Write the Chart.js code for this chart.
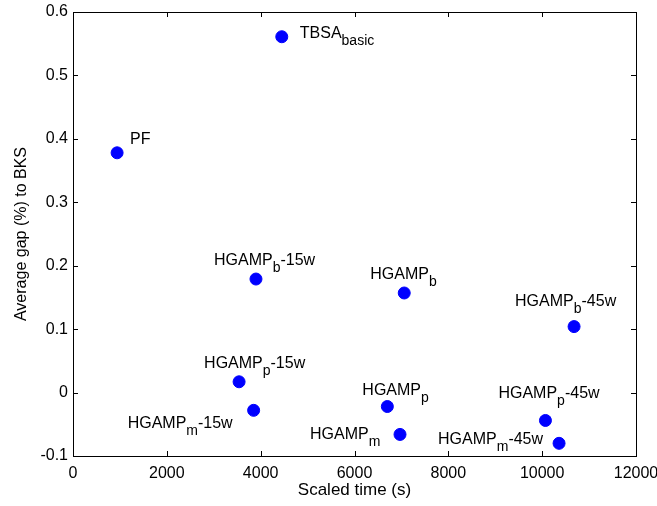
<!DOCTYPE html>
<html>
<head>
<meta charset="utf-8">
<script src="https://cdn.jsdelivr.net/npm/chart.js@4/dist/chart.umd.min.js"></script>
<style>
  html, body { margin: 0; padding: 0; background: #fff; }
  #wrap { width: 657px; height: 506px; }
</style>
</head>
<body>
<div id="wrap"><canvas id="chart" width="657" height="506"></canvas></div>
<script>
// data
const names = ['PF', 'TBSA', 'HGAMP', 'HGAMP', 'HGAMP', 'HGAMP', 'HGAMP', 'HGAMP', 'HGAMP', 'HGAMP', 'HGAMP'];
const subs = ['', 'basic', 'b', 'p', 'm', 'b', 'p', 'm', 'b', 'p', 'm'];
const suffixes = ['', '', '-15w', '-15w', '-15w', '', '', '', '-45w', '-45w', '-45w'];
const timeValues = [940, 4450, 3900, 3540, 3850, 7060, 6700, 6970, 10680, 10070, 10360];
const gapValues = [0.378, 0.561, 0.179, 0.017, -0.028, 0.157, -0.022, -0.066, 0.104, -0.044, -0.080];
const xTicks = [0, 2000, 4000, 6000, 8000, 10000, 12000];
const yTicks = [-0.1, 0, 0.1, 0.2, 0.3, 0.4, 0.5, 0.6];

// where each label sits relative to its dot (px, baseline)
const labelOffsets = [
  [13, -9], [18, 1], [-42, -14], [-35, -14], [-126, 18],
  [-34, -14], [-25, -12], [-90, 5], [-59, -21], [-47, -22], [-121, 1]
];

const FONT = 'Liberation Sans, Arial, Helvetica, sans-serif';

const boxPlugin = {
  id: 'box',
  afterDraw(chart) {
    const { ctx, chartArea: a, scales: { x, y } } = chart;
    ctx.save();
    ctx.strokeStyle = '#000';
    ctx.lineWidth = 1;
    ctx.strokeRect(Math.round(a.left) + 0.5, Math.round(a.top) + 0.5,
      Math.round(a.right - a.left), Math.round(a.bottom - a.top));
    const len = 5;
    ctx.beginPath();
    xTicks.forEach(v => {
      const px = Math.round(x.getPixelForValue(v)) + 0.5;
      ctx.moveTo(px, a.bottom); ctx.lineTo(px, a.bottom - len);
      ctx.moveTo(px, a.top); ctx.lineTo(px, a.top + len);
    });
    yTicks.forEach(v => {
      const py = Math.round(y.getPixelForValue(v)) + 0.5;
      ctx.moveTo(a.left, py); ctx.lineTo(a.left + len, py);
      ctx.moveTo(a.right, py); ctx.lineTo(a.right - len, py);
    });
    ctx.stroke();
    ctx.restore();
  }
};

const labelPlugin = {
  id: 'pointLabels',
  afterDatasetsDraw(chart) {
    const { ctx } = chart;
    const meta = chart.getDatasetMeta(0);
    ctx.save();
    ctx.fillStyle = '#000';
    ctx.textBaseline = 'alphabetic';
    ctx.textAlign = 'left';
    meta.data.forEach((pt, i) => {
      let tx = pt.x + labelOffsets[i][0];
      const ty = pt.y + labelOffsets[i][1];
      ctx.font = '16px ' + FONT;
      ctx.fillText(names[i], tx, ty);
      tx += ctx.measureText(names[i]).width;
      if (subs[i]) {
        ctx.font = '14px ' + FONT;
        ctx.fillText(subs[i], tx, ty + 7);
        tx += ctx.measureText(subs[i]).width;
      }
      if (suffixes[i]) {
        ctx.font = '16px ' + FONT;
        ctx.fillText(suffixes[i], tx, ty);
      }
    });
    ctx.restore();
  }
};

new Chart(document.getElementById('chart'), {
  type: 'scatter',
  data: {
    datasets: [{
      data: timeValues.map((t, i) => ({ x: t, y: gapValues[i] })),
      backgroundColor: '#0000ff',
      borderColor: '#0000ff',
      pointRadius: 6,
      pointHoverRadius: 6
    }]
  },
  options: {
    responsive: false,
    animation: false,
    events: [],
    layout: { padding: { top: 12, right: 21, left: 0, bottom: 0 } },
    plugins: { legend: { display: false }, tooltip: { enabled: false } },
    scales: {
      x: {
        type: 'linear',
        min: 0, max: 12000,
        afterFit: s => { s.height = 50; s.paddingLeft = 0; s.paddingRight = 0; },
        afterBuildTicks: s => { s.ticks = xTicks.map(v => ({ value: v })); },
        grid: { display: false, drawTicks: false },
        border: { display: false },
        ticks: { color: '#000', font: { family: FONT, size: 16 }, padding: 8, maxRotation: 0, callback: v => String(v) },
        title: { display: true, text: 'Scaled time (s)', color: '#000', font: { family: FONT, size: 17 }, padding: { top: 0, bottom: 5 } }
      },
      y: {
        type: 'linear',
        min: -0.1, max: 0.6,
        afterFit: s => { s.width = 73; s.paddingTop = 0; s.paddingBottom = 0; },
        afterBuildTicks: s => { s.ticks = yTicks.map(v => ({ value: v })); },
        grid: { display: false, drawTicks: false },
        border: { display: false },
        ticks: { color: '#000', font: { family: FONT, size: 16 }, padding: 5, callback: v => String(Math.round(v * 10) / 10) },
        title: { display: true, text: 'Average gap (%) to BKS', color: '#000', font: { family: FONT, size: 16 }, padding: { top: 12, bottom: 0 } }
      }
    }
  },
  plugins: [boxPlugin, labelPlugin]
});
</script>
</body>
</html>
